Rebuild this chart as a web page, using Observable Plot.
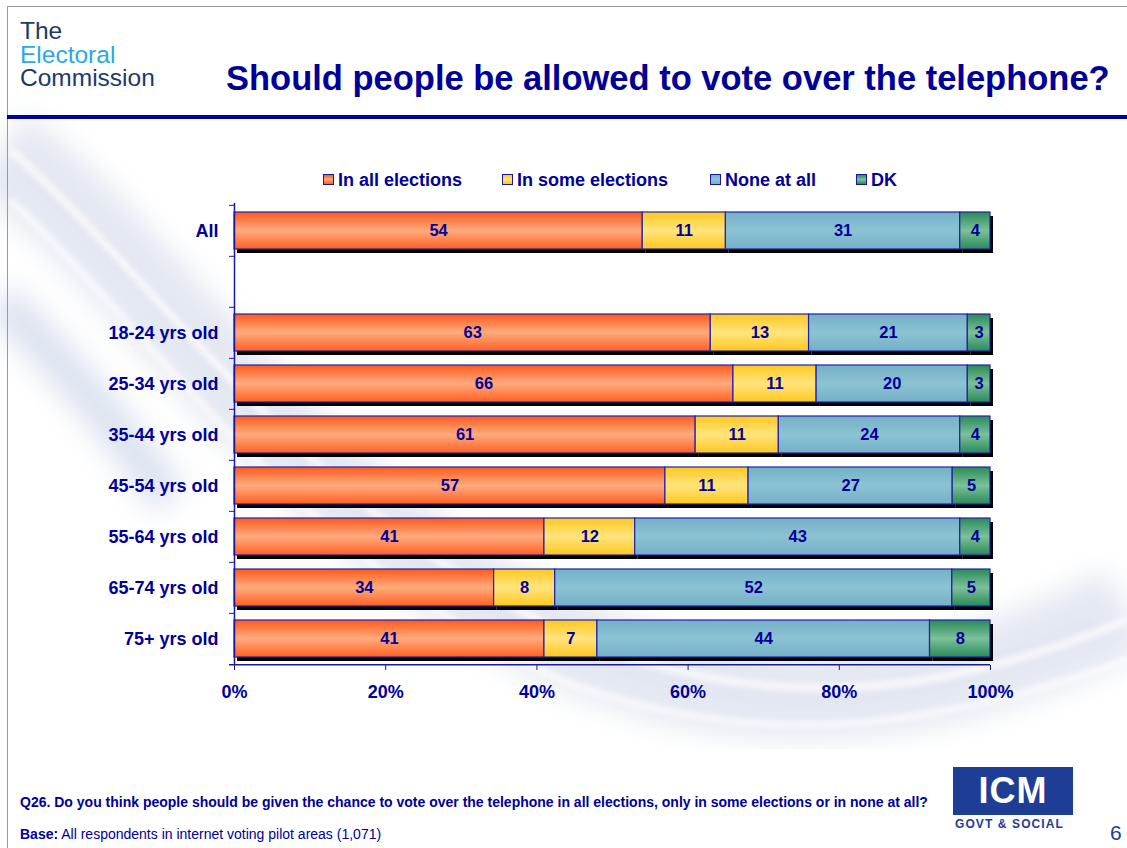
<!DOCTYPE html>
<html>
<head>
<meta charset="utf-8">
<script src="https://cdn.jsdelivr.net/npm/d3@7"></script>
<script src="https://cdn.jsdelivr.net/npm/@observablehq/plot@0.6"></script>
<style>
  html, body { margin: 0; padding: 0; background: #fff; }
  #page { position: relative; width: 1127px; height: 848px; overflow: hidden; font-family: "Liberation Sans", Arial, sans-serif; }
  .abs { position: absolute; white-space: nowrap; }
  #bg { position: absolute; left: 0; top: 0; }
  #chart { position: absolute; left: 0; top: 190px; }
  .legend { top: 170px; left: 0; font-weight: bold; font-size: 18px; color: #000099; }
  .legend span.item { position: absolute; top: 0; white-space: nowrap; }
  .legend i { display: inline-block; width: 9px; height: 9px; border: 1px solid #1a1a99; margin-right: 4px; vertical-align: 1px; }
</style>
</head>
<body>
<div id="page">
  <svg id="bg" width="1127" height="848">
    <defs>
      <filter id="blur"><feGaussianBlur stdDeviation="14"/></filter>
      <filter id="blur2"><feGaussianBlur stdDeviation="3"/></filter>
      <linearGradient id="gOrange" x1="0" y1="0" x2="0" y2="1">
        <stop offset="0" stop-color="#ff5a1c"/><stop offset="0.5" stop-color="#ffab7e"/><stop offset="1" stop-color="#ff5f22"/>
      </linearGradient>
      <linearGradient id="gYellow" x1="0" y1="0" x2="0" y2="1">
        <stop offset="0" stop-color="#ffc81e"/><stop offset="0.5" stop-color="#ffe47e"/><stop offset="1" stop-color="#ffc81e"/>
      </linearGradient>
      <linearGradient id="gBlue" x1="0" y1="0" x2="0" y2="1">
        <stop offset="0" stop-color="#74b0c6"/><stop offset="0.5" stop-color="#8cc3d4"/><stop offset="1" stop-color="#74b0c6"/>
      </linearGradient>
      <linearGradient id="gGreen" x1="0" y1="0" x2="0" y2="1">
        <stop offset="0" stop-color="#2a8a58"/><stop offset="0.5" stop-color="#7cc19a"/><stop offset="1" stop-color="#2a8a58"/>
      </linearGradient>
    </defs>
    <g filter="url(#blur)" opacity="0.5">
      <path d="M0,150 C150,260 300,520 560,640 C760,730 950,700 1127,610" stroke="#c9d1e4" stroke-width="90" fill="none"/>
      <path d="M0,300 C60,360 120,430 170,500" stroke="#b9c6e0" stroke-width="40" fill="none"/>
    </g>
    <g filter="url(#blur2)" opacity="0.9">
      <path d="M10,150 C160,280 310,520 580,640 C780,720 960,690 1127,620" stroke="#ffffff" stroke-width="6" fill="none"/>
      <path d="M10,200 C150,330 300,560 560,680 C770,760 960,720 1127,660" stroke="#ffffff" stroke-width="5" fill="none"/>
    </g>
    <line x1="7" y1="6.5" x2="1127" y2="6.5" stroke="#9a9a9a" stroke-width="1"/>
    <line x1="7.5" y1="6" x2="7.5" y2="848" stroke="#9a9a9a" stroke-width="1"/>
    <rect x="7" y="115" width="1120" height="4" fill="#00009c"/>
  </svg>

  <div class="abs" style="left:20px; top:19px; font-size:24.5px; line-height:23.5px; color:#1b3a6b;">
    <div>The</div>
    <div style="color:#2aa9df;">Electoral</div>
    <div>Commission</div>
  </div>
  <div class="abs" id="title" style="left:226px; top:59px; font-size:34.5px; font-weight:bold; color:#000099;">Should people be allowed to vote over the telephone?</div>

  <div class="abs legend" id="legend"></div>

  <div id="chart"></div>

  <div class="abs" id="q" style="left:20px; top:794px; font-size:14px; font-weight:bold; color:#000099;">Q26. Do you think people should be given the chance to vote over the telephone in all elections, only in some elections or in none at all?</div>
  <div class="abs" style="left:20px; top:826px; font-size:14px; color:#000099;"><b>Base:</b> All respondents in internet voting pilot areas (1,071)</div>

  <div class="abs" style="left:953px; top:767px; width:120px; height:48px; background:#1e3d94; color:#fff; font-weight:bold; font-size:36px; text-align:center; line-height:48px; letter-spacing:1px;">ICM</div>
  <div class="abs" style="left:955px; top:817px; width:120px; font-weight:bold; font-size:12px; color:#1e3d94; letter-spacing:1.1px;">GOVT &amp; SOCIAL</div>
  <div class="abs" style="left:1110px; top:821px; font-size:21px; color:#1e3d94;">6</div>
</div>

<script>
// ---- data ----
const categories = ["All", " ", "18-24 yrs old", "25-34 yrs old", "35-44 yrs old", "45-54 yrs old", "55-64 yrs old", "65-74 yrs old", "75+ yrs old"];
const series = ["In all elections", "In some elections", "None at all", "DK"];
const inAll   = {"All": 54, "18-24 yrs old": 63, "25-34 yrs old": 66, "35-44 yrs old": 61, "45-54 yrs old": 57, "55-64 yrs old": 41, "65-74 yrs old": 34, "75+ yrs old": 41};
const inSome  = {"All": 11, "18-24 yrs old": 13, "25-34 yrs old": 11, "35-44 yrs old": 11, "45-54 yrs old": 11, "55-64 yrs old": 12, "65-74 yrs old": 8,  "75+ yrs old": 7};
const noneAll = {"All": 31, "18-24 yrs old": 21, "25-34 yrs old": 20, "35-44 yrs old": 24, "45-54 yrs old": 27, "55-64 yrs old": 43, "65-74 yrs old": 52, "75+ yrs old": 44};
const dk      = {"All": 4,  "18-24 yrs old": 3,  "25-34 yrs old": 3,  "35-44 yrs old": 4,  "45-54 yrs old": 5,  "55-64 yrs old": 4,  "65-74 yrs old": 5,  "75+ yrs old": 8};
const xTicks = [0, 0.2, 0.4, 0.6, 0.8, 1];

const seriesValues = [inAll, inSome, noneAll, dk];
const fills = ["url(#gOrange)", "url(#gYellow)", "url(#gBlue)", "url(#gGreen)"];
const legendFills = [
  "linear-gradient(#ff5a1c,#ffab7e,#ff5f22)",
  "linear-gradient(#ffc81e,#ffe47e,#ffc81e)",
  "linear-gradient(#74b0c6,#8cc3d4,#74b0c6)",
  "linear-gradient(#2a8a58,#7cc19a,#2a8a58)"
];

const rows = [];
categories.forEach(c => {
  series.forEach((s, i) => {
    const v = seriesValues[i][c];
    if (v !== undefined) rows.push({cat: c, series: s, order: i, value: v, fill: fills[i]});
  });
});

const navy = "#000099";
const plotTop = 190;
const height = 530;
const mTop = 203 - plotTop, mBottom = plotTop + height - 665;
const step = (665 - 203) / categories.length;

const stackOpts = {x: "value", y: "cat", order: "order", offset: "normalize"};

const chart = Plot.plot({
  width: 1127,
  height,
  marginLeft: 234,
  marginRight: 137,
  marginTop: mTop,
  marginBottom: mBottom,
  style: {fontFamily: "'Liberation Sans', Arial, sans-serif", fontWeight: "bold", fontSize: "18px", color: navy, background: "transparent", overflow: "visible"},
  x: {domain: [0, 1], label: null},
  y: {domain: categories, paddingInner: 0.28, paddingOuter: 0.14, align: 0.5, label: null},
  color: {type: "identity"},
  marks: [
    // drop shadow
    Plot.barX(rows, Plot.stackX({...stackOpts, fill: "black", dx: 3, dy: 4})),
    // bars
    Plot.barX(rows, Plot.stackX({...stackOpts, fill: "fill", stroke: "#2222a8", strokeWidth: 1.2})),
    // value labels
    Plot.text(rows, Plot.stackX({...stackOpts, text: d => String(d.value), fill: navy, fontSize: 16.5, fontWeight: "bold"})),
    // axes
    Plot.axisY({label: null, tickSize: 0, tickPadding: 16, fontSize: 18, fontWeight: "bold", fill: navy}),
    Plot.axisX({label: null, ticks: xTicks, tickFormat: d3.format(".0%"), tickSize: 5, tickPadding: 15, stroke: "#1a1aa0", fill: navy, fontSize: 18, fontWeight: "bold"}),
    Plot.ruleX([0], {stroke: "#1a1aa0", strokeWidth: 1.5}),
    // y ticks at band boundaries
    Plot.ruleY(categories, {y: d => d, x1: -0.0066, x2: 0, dy: -step / 2, stroke: "#1a1aa0"}),
    Plot.ruleY(categories.slice(-1), {y: d => d, x1: -0.0066, x2: 1, dy: step / 2, stroke: "#1a1aa0", strokeWidth: 1.5})
  ]
});
document.getElementById("chart").appendChild(chart);

// legend
const legendPos = [323, 502, 710, 856];
const leg = document.getElementById("legend");
series.forEach((s, i) => {
  const span = document.createElement("span");
  span.className = "item";
  span.style.left = legendPos[i] + "px";
  const sw = document.createElement("i");
  sw.style.background = legendFills[i];
  span.appendChild(sw);
  span.appendChild(document.createTextNode(s));
  leg.appendChild(span);
});
</script>
</body>
</html>
